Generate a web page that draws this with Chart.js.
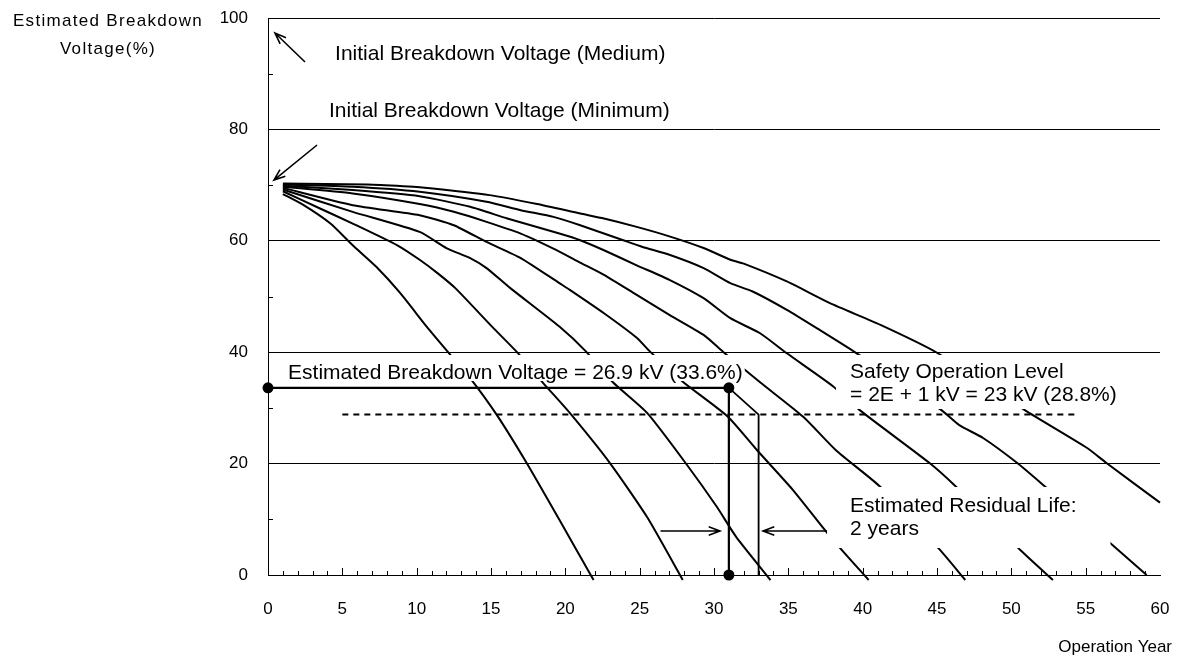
<!DOCTYPE html>
<html>
<head>
<meta charset="utf-8">
<script src="https://cdn.jsdelivr.net/npm/chart.js@4.4.0/dist/chart.umd.min.js"></script>
<style>
html, body { margin: 0; padding: 0; background: #fff; }
</style>
</head>
<body>
<canvas id="chart" width="1184" height="655"></canvas>
<script>
// curves: operation year / estimated breakdown voltage (%)
const years1 = [1, 2.4, 4.2, 5.7, 7.3, 8.9, 10.7, 12.4, 13.7, 15.4, 17.4, 19.6, 21.9];
const volts1 = [68.4, 66.4, 63.1, 59.2, 55.3, 50.6, 44.5, 39.1, 35.0, 28.7, 20.1, 9.9, -0.9];
const years2 = [1, 3.5, 5.7, 8.7, 10.2, 11.4, 12.6, 15.1, 16.75, 18.5, 20.3, 23.0, 25.5, 27.9];
const volts2 = [68.9, 65.8, 63.1, 59.2, 56.6, 54.2, 51.5, 44.5, 40.0, 34.5, 29.1, 20.1, 10.4, -0.9];
const years3 = [1, 5.7, 10.2, 12.0, 13.6, 14.7, 16.3, 19.6, 21.4, 23.2, 25.5, 28.2, 30.2, 31.5, 33.8];
const volts3 = [69.2, 65.2, 61.6, 58.7, 56.9, 55.1, 51.5, 44.6, 40.1, 34.6, 29.1, 19.7, 12.2, 6.8, -0.9];
const years4 = [1, 5.7, 10.2, 12.5, 14.7, 17.0, 19.6, 20.3, 22.6, 24.8, 25.7, 27.9, 30.9, 32.9, 35.3, 38.0, 40.4];
const volts4 = [69.5, 66.4, 64.6, 62.8, 59.8, 56.9, 52.4, 51.2, 47.0, 42.6, 40.1, 34.7, 28.5, 22.4, 15.3, 6.3, -0.9];
const years5 = [1, 5.7, 10.2, 12.5, 14.7, 17.0, 19.2, 21.0, 22.6, 24.8, 27.0, 29.3, 30.6, 33.1, 36.0, 38.2, 41.2, 45.2, 46.9];
const volts5 = [69.7, 68.5, 66.6, 65.2, 63.4, 61.3, 58.6, 56.1, 53.9, 50.3, 46.7, 43.1, 40.1, 34.6, 28.4, 22.4, 15.8, 4.5, -0.9];
const years6 = [1, 5.7, 10.2, 13.6, 16.1, 19.6, 21.0, 22.6, 24.8, 27.0, 29.3, 31.1, 33.1, 34.9, 38.0, 39.8, 44.5, 46.3, 50.6, 52.8];
const volts6 = [69.9, 69.1, 68.0, 66.1, 64.0, 61.3, 60.1, 58.3, 55.6, 53.0, 49.7, 46.1, 43.4, 39.8, 33.9, 29.6, 20.1, 15.8, 4.5, -0.9];
const years7 = [1, 5.7, 10.2, 14.7, 17.0, 19.2, 21.0, 23.9, 25.2, 27.0, 29.3, 31.1, 32.6, 34.9, 37.1, 39.6, 45.3, 46.5, 48.1, 50.4, 52.3, 56.8, 59.1];
const volts7 = [70.1, 69.7, 68.8, 67.0, 65.5, 64.3, 62.8, 60.1, 58.9, 57.5, 55.1, 52.4, 50.9, 47.6, 44.0, 39.8, 29.6, 26.9, 24.6, 20.1, 15.8, 5.4, 0];
const years8 = [1, 6.7, 9.1, 10.2, 14.9, 18.1, 21.0, 22.6, 24.8, 27.0, 29.3, 31.1, 32.0, 34.9, 37.8, 41.2, 45.0, 50.9, 55.1, 56.4, 60];
const volts8 = [70.3, 70.1, 69.8, 69.6, 68.2, 66.6, 64.9, 64.0, 62.5, 60.8, 58.7, 56.6, 55.9, 52.7, 48.8, 44.9, 39.9, 29.6, 22.8, 20.1, 13.0];

// measured point and safety level
const measuredYear = 31;
const measuredVolt = 33.6;
const safetyVolt = 28.8;
const reachYear = 33;
const safetyFrom = 5;
const safetyTo = 54.5;

const xTicks = [0, 5, 10, 15, 20, 25, 30, 35, 40, 45, 50, 55, 60];
const yTicks = [0, 20, 40, 60, 80, 100];

const curveYears = [years1, years2, years3, years4, years5, years6, years7, years8];
const curveVolts = [volts1, volts2, volts3, volts4, volts5, volts6, volts7, volts8];

const tickFont = { family: '"Liberation Sans", Arial, sans-serif', size: 17 };
const noteFont = '21px "Liberation Sans", Arial, sans-serif';
const lineH = 23;

const curves = curveYears.map((ys, i) => ({
    data: ys.map((yr, j) => ({ x: yr, y: curveVolts[i][j] })),
    showLine: true,
    borderColor: '#000',
    borderWidth: 2,
    pointRadius: 0,
    tension: 0.2,
    borderJoinStyle: 'round',
    clip: false
}));

const measured = {
    data: [
        { x: 0, y: measuredVolt },
        { x: measuredYear, y: measuredVolt },
        { x: measuredYear, y: 0 }
    ],
    showLine: true,
    borderColor: '#000',
    borderWidth: 2.2,
    pointRadius: 5.5,
    pointBackgroundColor: '#000',
    pointBorderWidth: 0,
    clip: false
};

const projection = {
    data: [
        { x: measuredYear, y: measuredVolt },
        { x: reachYear, y: safetyVolt },
        { x: reachYear, y: 0 }
    ],
    showLine: true,
    borderColor: '#000',
    borderWidth: 1.8,
    pointRadius: 0
};

const safety = {
    data: [{ x: safetyFrom, y: safetyVolt }, { x: safetyTo, y: safetyVolt }],
    showLine: true,
    borderColor: '#000',
    borderWidth: 2,
    borderDash: [6, 5],
    pointRadius: 0
};

// text notes: anchor in data units, white box padding [left, top, right, bottom] in px
const notes = [
    { lines: ['Initial Breakdown Voltage (Medium)'], x: 4.51, y: 92.46 },
    { lines: ['Initial Breakdown Voltage (Minimum)'], x: 4.10, y: 82.23 },
    { lines: ['Estimated Breakdown Voltage = 26.9 kV (33.6%)'], x: 1.35, y: 35.19, box: [4, 24, 2, 2] },
    { lines: ['Safety Operation Level', '= 2E + 1 kV = 23 kV (28.8%)'], x: 39.15, y: 35.37, box: [14, 23, 7, 8] },
    { lines: ['Estimated Residual Life:', '2 years'], x: 39.15, y: 11.31, box: [23, 25, 34, 13] }
];

// arrows [fromX, fromY, toX, toY] in data units
const arrows = [
    [2.49, 92.1, 0.47, 97.3],
    [3.30, 77.2, 0.40, 70.9],
    [26.4, 7.9, 30.4, 7.9],
    [37.6, 7.9, 33.3, 7.9]
];

function drawArrow(ctx, x0, y0, x1, y1) {
    const ang = Math.atan2(y1 - y0, x1 - x0), h = 12, s = 0.36;
    ctx.beginPath();
    ctx.moveTo(x0, y0);
    ctx.lineTo(x1, y1);
    ctx.moveTo(x1 - h * Math.cos(ang - s), y1 - h * Math.sin(ang - s));
    ctx.lineTo(x1, y1);
    ctx.lineTo(x1 - h * Math.cos(ang + s), y1 - h * Math.sin(ang + s));
    ctx.stroke();
}

function noPad(s) {
    s.paddingLeft = 0;
    s.paddingRight = 0;
    s.paddingTop = 0;
    s.paddingBottom = 0;
}

const decor = {
    id: 'decor',
    beforeDatasetsDraw(chart) {
        const { ctx, chartArea: a, scales: { x, y } } = chart;
        ctx.save();
        ctx.strokeStyle = '#000';
        ctx.lineWidth = 1;
        ctx.beginPath();
        for (let v = 1; v < 60; v++) {
            const px = Math.round(x.getPixelForValue(v)) + 0.5;
            ctx.moveTo(px, a.bottom);
            ctx.lineTo(px, a.bottom - (v % 5 === 0 ? 7 : 4));
        }
        for (let v = 10; v < 100; v += 20) {
            const py = Math.round(y.getPixelForValue(v)) + 0.5;
            ctx.moveTo(a.left, py);
            ctx.lineTo(a.left + 5, py);
        }
        ctx.stroke();
        ctx.restore();
    },
    afterDatasetsDraw(chart) {
        const { ctx, scales: { x, y } } = chart;
        ctx.save();
        ctx.font = noteFont;
        ctx.textBaseline = 'alphabetic';
        notes.forEach(n => {
            const px = x.getPixelForValue(n.x), py = y.getPixelForValue(n.y);
            const w = Math.max(...n.lines.map(l => ctx.measureText(l).width));
            if (n.box) {
                const b = n.box;
                ctx.fillStyle = '#fff';
                ctx.fillRect(px - b[0], py - b[1], w + b[0] + b[2], (n.lines.length - 1) * lineH + b[1] + b[3]);
            }
            ctx.fillStyle = '#000';
            n.lines.forEach((l, i) => ctx.fillText(l, px, py + i * lineH));
        });
        ctx.strokeStyle = '#000';
        ctx.lineWidth = 1.6;
        arrows.forEach(r => drawArrow(ctx, x.getPixelForValue(r[0]), y.getPixelForValue(r[1]),
            x.getPixelForValue(r[2]), y.getPixelForValue(r[3])));
        ctx.restore();
    },
    afterDraw(chart) {
        const ctx = chart.ctx;
        ctx.save();
        ctx.fillStyle = '#000';
        ctx.font = '17px "Liberation Sans", Arial, sans-serif';
        ctx.textBaseline = 'middle';
        ctx.textAlign = 'center';
        ctx.letterSpacing = '1.3px';
        ctx.fillText('Estimated Breakdown', 108, 21);
        ctx.fillText('Voltage(%)', 108, 49);
        ctx.letterSpacing = '0px';
        ctx.textAlign = 'right';
        ctx.fillText('Operation Year', 1172, 647);
        ctx.restore();
    }
};

new Chart(document.getElementById('chart'), {
    type: 'scatter',
    data: { datasets: [...curves, measured, projection, safety] },
    options: {
        responsive: false,
        animation: false,
        layout: { padding: { top: 18, right: 24, left: 0, bottom: 0 } },
        plugins: { legend: { display: false }, tooltip: { enabled: false } },
        scales: {
            x: {
                type: 'linear', min: 0, max: 60,
                afterBuildTicks(s) { s.ticks = xTicks.map(v => ({ value: v })); },
                ticks: { font: tickFont, color: '#000', padding: 24, maxRotation: 0 },
                grid: { display: false, drawTicks: false },
                border: { color: '#000', width: 1 },
                afterFit(s) { s.height = 80; noPad(s); }
            },
            y: {
                type: 'linear', min: 0, max: 100,
                afterBuildTicks(s) { s.ticks = yTicks.map(v => ({ value: v })); },
                ticks: { font: tickFont, color: '#000', padding: 20 },
                grid: { color: '#000', lineWidth: 1, drawTicks: false },
                border: { color: '#000', width: 1 },
                afterFit(s) { s.width = 268; noPad(s); }
            }
        }
    },
    plugins: [decor]
});
</script>
</body>
</html>
